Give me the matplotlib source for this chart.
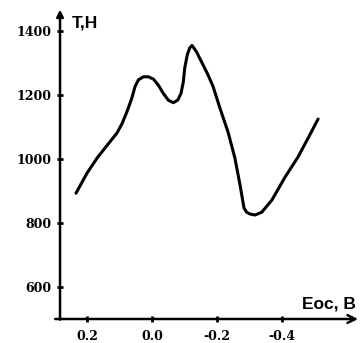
import matplotlib
matplotlib.use("Agg")
import matplotlib.pyplot as plt
from matplotlib.font_manager import FontProperties

# Potential E (V) and tension T (N) along the curve
e_vals = [0.234, 0.200, 0.169, 0.138, 0.108, 0.092, 0.0778, 0.0625, 0.0523, 0.0422,
          0.0268, 0.0114, -0.0040, -0.0194, -0.0348, -0.0502, -0.0655, -0.0791,
          -0.0892, -0.0963, -0.1006, -0.1086, -0.1160, -0.1231, -0.1363, -0.1517,
          -0.1723, -0.1877, -0.209, -0.234, -0.255, -0.271, -0.283, -0.291, -0.302,
          -0.317, -0.338, -0.369, -0.409, -0.449, -0.480, -0.511]
t_vals = [892, 955, 1002, 1042, 1080, 1110, 1145, 1188, 1225, 1246,
          1256, 1256, 1249, 1230, 1204, 1183, 1175, 1183,
          1204, 1240, 1283, 1325, 1346, 1354, 1335, 1304,
          1262, 1226, 1158, 1083, 1002, 917, 846, 833, 827,
          824, 833, 871, 942, 1005, 1064, 1124]

x_ticks = [0.2, 0.0, -0.2, -0.4]
x_tick_labels = ["0.2", "0.0", "-0.2", "-0.4"]
y_ticks = [600, 800, 1000, 1200, 1400]
y_tick_labels = ["600", "800", "1000", "1200", "1400"]

fig = plt.figure(figsize=(3.61, 3.43), dpi=100)
ax = fig.add_axes([0, 0, 1, 1])
ax.set_xlim(0.4677, -0.643)
ax.set_ylim(424, 1496)

x_axis_at = 0.283   # where the vertical axis crosses
y_axis_at = 499     # where the horizontal axis crosses

for side in ("top", "right", "left", "bottom"):
    ax.spines[side].set_visible(False)
ax.spines["left"].set_position(("data", x_axis_at))
ax.spines["bottom"].set_position(("data", y_axis_at))

# axis lines with arrow heads
ax.annotate("", xy=(-0.634, y_axis_at), xytext=(0.298, y_axis_at),
            arrowprops=dict(arrowstyle="->", lw=1.8, color="black",
                            mutation_scale=14, shrinkA=0, shrinkB=0))
ax.annotate("", xy=(x_axis_at, 1466), xytext=(x_axis_at, y_axis_at - 2),
            arrowprops=dict(arrowstyle="-|>", lw=1.8, color="black",
                            mutation_scale=10, shrinkA=0, shrinkB=0))

ax.set_xticks(x_ticks)
ax.set_xticklabels(x_tick_labels)
ax.set_yticks(y_ticks)
ax.set_yticklabels(y_tick_labels)
tick_font = FontProperties(family="DejaVu Serif", weight="bold", size=9)
for lab in ax.get_xticklabels() + ax.get_yticklabels():
    lab.set_fontproperties(tick_font)
ax.tick_params(axis="both", direction="inout", length=4, width=2, color="black")
ax.tick_params(axis="x", pad=6)
ax.tick_params(axis="y", pad=4)

ax.plot(e_vals, t_vals, color="black", lw=2.2, solid_capstyle="round",
        solid_joinstyle="round")

ax.text(0.246, 1411, "T,H", family="Liberation Sans", weight="bold",
        fontsize=12.5, va="baseline", ha="left")
ax.text(-0.4615, 533, "Eoc, B", family="Liberation Sans", weight="bold",
        fontsize=12.5, va="baseline", ha="left", clip_on=False)

fig.savefig("out.png", dpi=100)
